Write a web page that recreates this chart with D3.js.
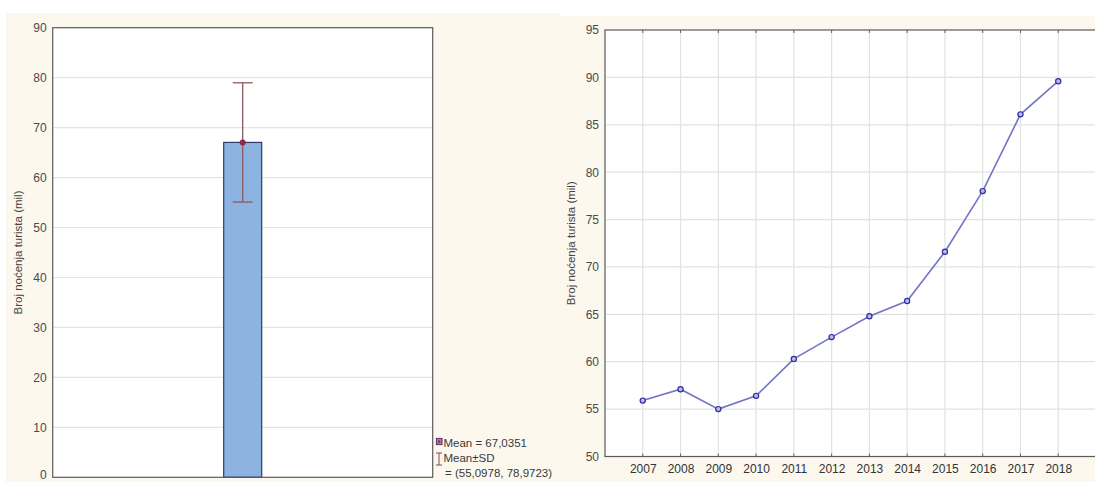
<!DOCTYPE html>
<html><head><meta charset="utf-8">
<script src="https://cdn.jsdelivr.net/npm/d3@7"></script>
<style>html,body{margin:0;padding:0;background:#fff;overflow:hidden}svg{display:block}</style>
</head><body>
<script>
// ---- data ----
const barCategories = ["Broj noćenja turista"];
const barMeans = [67.0351];
const barSdLow = [55.0978];
const barSdHigh = [78.9723];
const leftTicks = [0, 10, 20, 30, 40, 50, 60, 70, 80, 90];
const legendLines = ["Mean = 67,0351", "Mean±SD", "= (55,0978, 78,9723)"];

const years = [2007, 2008, 2009, 2010, 2011, 2012, 2013, 2014, 2015, 2016, 2017, 2018];
const nights = [55.9, 57.1, 55.0, 56.4, 60.3, 62.6, 64.8, 66.4, 71.6, 78.0, 86.1, 89.6];
const rightTicks = [50, 55, 60, 65, 70, 75, 80, 85, 90, 95];
const yTitle = "Broj noćenja turista (mil)";

// ---- drawing ----
const W = 1095, H = 482;
const svg = d3.select("body").append("svg").attr("width", W).attr("height", H);
const font = "'Liberation Sans', Arial, sans-serif";
const cream = "#fcf8ee";
svg.append("rect").attr("x", 6).attr("y", 13).attr("width", 554).attr("height", H - 13).attr("fill", cream);
svg.append("rect").attr("x", 560).attr("y", 16).attr("width", W - 560).attr("height", H - 16).attr("fill", cream);

// ===== Left chart =====
const L = {x0: 52.7, x1: 432.7, y0: 27.7, y1: 477.3};
const ly = d3.scaleLinear().domain([0, 90]).range([L.y1, L.y0]);
const lx = d3.scaleBand().domain(barCategories).range([L.x0, L.x1]).paddingInner(0).paddingOuter(4.5);
const gl = svg.append("g");
gl.append("rect").attr("x", L.x0).attr("y", L.y0).attr("width", L.x1 - L.x0).attr("height", L.y1 - L.y0).attr("fill", "#fff");
gl.append("g").selectAll("line").data(leftTicks.filter(t => t > 0 && t < 90)).join("line")
  .attr("x1", L.x0).attr("x2", L.x1).attr("y1", d => ly(d)).attr("y2", d => ly(d))
  .attr("stroke", "#e4e4e4").attr("stroke-width", 1.2);
// bar
gl.selectAll("rect.bar").data(barCategories).join("rect").attr("class", "bar")
  .attr("x", d => lx(d)).attr("width", lx.bandwidth())
  .attr("y", (d, i) => ly(barMeans[i])).attr("height", (d, i) => ly(0) - ly(barMeans[i]))
  .attr("fill", "#8db3e2").attr("stroke", "#2c3a66").attr("stroke-width", 1.2);
// error bars
barCategories.forEach((c, i) => {
  const cx = lx(c) + lx.bandwidth() / 2;
  const g = gl.append("g").attr("stroke", "#8a5a60").attr("stroke-width", 1.3);
  g.append("line").attr("x1", cx).attr("x2", cx).attr("y1", ly(barSdLow[i])).attr("y2", ly(barSdHigh[i]));
  g.append("line").attr("x1", cx - 10).attr("x2", cx + 10).attr("y1", ly(barSdLow[i])).attr("y2", ly(barSdLow[i]));
  g.append("line").attr("x1", cx - 10).attr("x2", cx + 10).attr("y1", ly(barSdHigh[i])).attr("y2", ly(barSdHigh[i]));
  gl.append("circle").attr("cx", cx).attr("cy", ly(barMeans[i])).attr("r", 3).attr("fill", "#8b2a4a");
});
gl.append("rect").attr("x", L.x0).attr("y", L.y0).attr("width", L.x1 - L.x0).attr("height", L.y1 - L.y0)
  .attr("fill", "none").attr("stroke", "#5a5a5a").attr("stroke-width", 1.2);
const lAxis = d3.axisLeft(ly).tickValues(leftTicks).tickSize(0).tickPadding(6);
gl.append("g").attr("transform", `translate(${L.x0},0)`).call(lAxis)
  .call(g => g.select(".domain").remove())
  .selectAll("text").attr("font-family", font).attr("font-size", 12).attr("fill", "#4a4a4a")
  .attr("dy", d => d === 0 ? "0.1em" : "0.32em");
gl.append("text").attr("transform", `translate(22,${(L.y0 + L.y1) / 2}) rotate(-90)`)
  .attr("text-anchor", "middle").attr("font-family", font).attr("font-size", 11.5).attr("fill", "#444").text(yTitle);
// legend
const lg = svg.append("g").attr("font-family", font).attr("font-size", 11.5).attr("fill", "#3a3a3a");
lg.append("rect").attr("x", 436.5).attr("y", 438.5).attr("width", 5.5).attr("height", 6).attr("fill", "#b08aa8").attr("stroke", "#6a3a6a").attr("stroke-width", 1.2);
lg.append("circle").attr("cx", 439.2).attr("cy", 441.6).attr("r", 1.3).attr("fill", "#6a3a6a");
const ib = lg.append("g").attr("stroke", "#8a5a60").attr("stroke-width", 1.1);
ib.append("line").attr("x1", 439).attr("x2", 439).attr("y1", 453).attr("y2", 465);
ib.append("line").attr("x1", 436).attr("x2", 442).attr("y1", 453).attr("y2", 453);
ib.append("line").attr("x1", 436).attr("x2", 442).attr("y1", 465).attr("y2", 465);
lg.append("text").attr("x", 443.5).attr("y", 446.5).text(legendLines[0]);
lg.append("text").attr("x", 443.5).attr("y", 461.5).text(legendLines[1]);
lg.append("text").attr("x", 445).attr("y", 476.5).text(legendLines[2]);

// ===== Right chart =====
const R = {x0: 605, x1: 1096, y0: 30, y1: 456.5};
const rx = d3.scaleLinear().domain([2006, 2019]).range([R.x0, R.x1]);
const ry = d3.scaleLinear().domain([50, 95]).range([R.y1, R.y0]);
const gr = svg.append("g");
gr.append("rect").attr("x", R.x0).attr("y", R.y0).attr("width", R.x1 - R.x0).attr("height", R.y1 - R.y0).attr("fill", "#fff");
gr.append("g").selectAll("line").data(rightTicks.filter(t => t > 50 && t < 95)).join("line")
  .attr("x1", R.x0).attr("x2", R.x1).attr("y1", d => ry(d)).attr("y2", d => ry(d))
  .attr("stroke", "#e2e2e2").attr("stroke-width", 1.2);
gr.append("g").selectAll("line").data(years).join("line")
  .attr("x1", d => rx(d)).attr("x2", d => rx(d)).attr("y1", R.y0).attr("y2", R.y1)
  .attr("stroke", "#e2e2e2").attr("stroke-width", 1.2);
// inward ticks top/bottom
gr.append("g").selectAll("line").data(years).join("line")
  .attr("x1", d => rx(d)).attr("x2", d => rx(d)).attr("y1", R.y1).attr("y2", R.y1 - 3)
  .attr("stroke", "#666");
gr.append("g").selectAll("line").data(years).join("line")
  .attr("x1", d => rx(d)).attr("x2", d => rx(d)).attr("y1", R.y0).attr("y2", R.y0 + 3)
  .attr("stroke", "#666");
const line = d3.line().x((d, i) => rx(years[i])).y(d => ry(d));
gr.append("path").datum(nights).attr("d", line).attr("fill", "none")
  .attr("stroke", "#7474c4").attr("stroke-width", 1.6);
gr.append("g").selectAll("circle").data(nights).join("circle")
  .attr("cx", (d, i) => rx(years[i])).attr("cy", d => ry(d)).attr("r", 2.6)
  .attr("fill", "#b8b8ec").attr("stroke", "#2e2e9e").attr("stroke-width", 1.2);
gr.append("rect").attr("x", R.x0).attr("y", R.y0).attr("width", R.x1 - R.x0).attr("height", R.y1 - R.y0)
  .attr("fill", "none").attr("stroke", "#5a5a5a").attr("stroke-width", 1.2);
gr.append("g").attr("transform", `translate(${R.x0},0)`).call(d3.axisLeft(ry).tickValues(rightTicks).tickSize(0).tickPadding(6))
  .call(g => g.select(".domain").remove())
  .selectAll("text").attr("font-family", font).attr("font-size", 12).attr("fill", "#4a4a4a");
gr.append("g").attr("transform", `translate(0,${R.y1})`).call(d3.axisBottom(rx).tickValues(years).tickFormat(d3.format("d")).tickSize(0).tickPadding(8))
  .call(g => g.select(".domain").remove())
  .selectAll("text").attr("font-family", font).attr("font-size", 12).attr("fill", "#333");
gr.append("text").attr("transform", `translate(575,${(R.y0 + R.y1) / 2}) rotate(-90)`)
  .attr("text-anchor", "middle").attr("font-family", font).attr("font-size", 11.5).attr("fill", "#444").text(yTitle);
</script>
</body></html>
